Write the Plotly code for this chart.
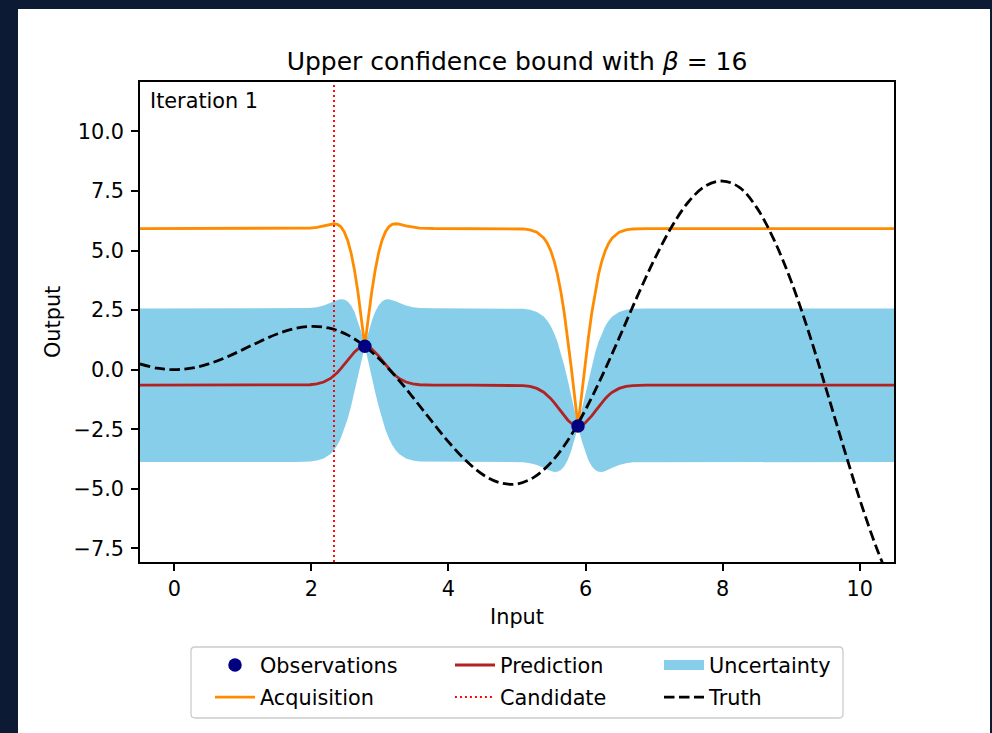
import plotly.graph_objects as go

# ---------------- data ----------------
# GP posterior evaluated on a grid that is dense around the two observations
x_grid = [-0.5, 1.0,
          1.78, 1.98, 2.08, 2.18, 2.28, 2.33, 2.38, 2.43, 2.48, 2.53, 2.58, 2.63, 2.68, 2.72, 2.75,
          2.78,
          2.81, 2.84, 2.88, 2.93, 2.98, 3.03, 3.08, 3.13, 3.18, 3.23, 3.28, 3.38, 3.48, 3.58, 3.78,
          4.3,
          4.89, 5.09, 5.19, 5.29, 5.39, 5.44, 5.49, 5.54, 5.59, 5.64, 5.69, 5.74, 5.79, 5.83, 5.86,
          5.89,
          5.92, 5.95, 5.99, 6.04, 6.09, 6.14, 6.19, 6.24, 6.29, 6.34, 6.39, 6.49, 6.59, 6.69, 6.89,
          8.0, 10.5]

pred_mean = [-0.65, -0.65,
             -0.649, -0.632, -0.598, -0.520, -0.368, -0.256, -0.119, 0.040, 0.217, 0.402, 0.581, 0.742, 0.870, 0.939, 0.970,
             0.98,
             0.970, 0.939, 0.870, 0.742, 0.581, 0.402, 0.217, 0.040, -0.119, -0.256, -0.368, -0.520, -0.598, -0.632, -0.649,
             -0.65,
             -0.652, -0.669, -0.705, -0.787, -0.946, -1.063, -1.207, -1.374, -1.560, -1.753, -1.942, -2.110, -2.244, -2.317, -2.349,
             -2.36,
             -2.349, -2.317, -2.244, -2.110, -1.942, -1.753, -1.560, -1.374, -1.207, -1.063, -0.946, -0.787, -0.705, -0.669, -0.652,
             -0.65, -0.65]

band_upper = [2.57, 2.57,
              2.572, 2.588, 2.621, 2.690, 2.804, 2.869, 2.926, 2.958, 2.944, 2.862, 2.692, 2.417, 2.035, 1.654, 1.330,
              0.98,
              1.330, 1.654, 2.035, 2.417, 2.692, 2.862, 2.944, 2.958, 2.926, 2.869, 2.804, 2.690, 2.621, 2.588, 2.572,
              2.57,
              2.569, 2.551, 2.514, 2.423, 2.226, 2.062, 1.838, 1.543, 1.167, 0.708, 0.169, -0.435, -1.079, -1.603, -1.989,
              -2.36,
              -1.989, -1.603, -1.079, -0.435, 0.169, 0.708, 1.167, 1.543, 1.838, 2.062, 2.226, 2.423, 2.514, 2.551, 2.569,
              2.57, 2.57]

band_lower = [-3.87, -3.87,
              -3.869, -3.852, -3.816, -3.729, -3.539, -3.381, -3.164, -2.877, -2.510, -2.059, -1.529, -0.933, -0.295, 0.225, 0.609,
              0.98,
              0.609, 0.225, -0.295, -0.933, -1.529, -2.059, -2.510, -2.877, -3.164, -3.381, -3.539, -3.729, -3.816, -3.852, -3.869,
              -3.87,
              -3.872, -3.889, -3.924, -3.997, -4.118, -4.188, -4.252, -4.292, -4.287, -4.214, -4.052, -3.786, -3.409, -3.032, -2.710,
              -2.36,
              -2.710, -3.032, -3.409, -3.786, -4.052, -4.214, -4.287, -4.292, -4.252, -4.188, -4.118, -3.997, -3.924, -3.889, -3.872,
              -3.87, -3.87]

acquisition = [5.92, 5.92,
               5.923, 5.940, 5.971, 6.031, 6.105, 6.121, 6.095, 5.994, 5.782, 5.423, 4.888, 4.161, 3.247, 2.398, 1.706,
               0.98,
               1.706, 2.398, 3.247, 4.161, 4.888, 5.423, 5.782, 5.994, 6.095, 6.121, 6.105, 6.031, 5.971, 5.940, 5.923,
               5.92,
               5.921, 5.903, 5.863, 5.764, 5.527, 5.314, 5.007, 4.579, 4.006, 3.269, 2.365, 1.309, 0.133, -0.859, -1.613,
               -2.36,
               -1.613, -0.859, 0.133, 1.309, 2.365, 3.269, 4.006, 4.579, 5.007, 5.314, 5.527, 5.764, 5.863, 5.903, 5.921,
               5.92, 5.92]

truth_x = [-0.5, -0.25, 0.0, 0.25, 0.5, 0.75, 1.0, 1.25, 1.5, 1.75, 2.0, 2.25, 2.5, 2.75, 3.0, 3.25,
           3.5, 3.75, 4.0, 4.25, 4.5, 4.75, 5.0, 5.25, 5.5, 5.75, 6.0, 6.25, 6.5, 6.75, 7.0, 7.25,
           7.5, 7.75, 8.0, 8.25, 8.5, 8.75, 9.0, 9.25, 9.5, 9.75, 10.0, 10.25, 10.5]
truth_y = [0.240, 0.062, 0.0, 0.062, 0.240, 0.511, 0.841, 1.186, 1.496, 1.722, 1.819, 1.751, 1.496, 1.050, 0.423, -0.352,
           -1.228, -2.143, -3.027, -3.804, -4.399, -4.747, -4.795, -4.509, -3.881, -2.931, -1.677, -0.207, 1.398, 3.041, 4.599, 5.962,
           7.035, 7.709, 7.915, 7.638, 6.787, 5.442, 3.709, 1.624, -0.714, -3.115, -5.440, -7.515, -9.237]

obs_x = [2.78, 5.89]
obs_y = [0.98, -2.36]
candidate_x = 2.33

x_ticks = [0, 2, 4, 6, 8, 10]
y_ticks = [-7.5, -5.0, -2.5, 0.0, 2.5, 5.0, 7.5, 10.0]
y_tick_text = ["\u22127.5", "\u22125.0", "\u22122.5", "0.0", "2.5", "5.0", "7.5", "10.0"]
x_range = [-0.5, 10.5]
y_range = [-8.07, 12.07]

# ---------------- geometry (pixels) ----------------
W, H = 992, 733
L, R, T, B = 140, 894, 82, 562


def px(xp):
    return (xp - L) / (R - L)


def py(yp):
    return (B - yp) / (B - T)


FONT = "DejaVu Sans"
FS = 20.8

fig = go.Figure()

band_x = x_grid + x_grid[::-1]
band_y = band_upper + band_lower[::-1]
fig.add_trace(go.Scatter(x=band_x, y=band_y, mode="lines", fill="toself",
                         fillcolor="#87ceeb", line=dict(width=0, color="#87ceeb"),
                         name="Uncertainty", showlegend=False, hoverinfo="skip"))
# legend key for the uncertainty band (thick patch)
fig.add_trace(go.Scatter(x=[None], y=[None], mode="lines",
                         line=dict(color="#87ceeb", width=20),
                         name="Uncertainty", legend="legend3", legendgroup="u", legendrank=1))
fig.add_trace(go.Scatter(x=x_grid, y=pred_mean, mode="lines",
                         line=dict(color="#b22222", width=2.8),
                         name="Prediction", legend="legend2", legendgroup="p", legendrank=1))
fig.add_trace(go.Scatter(x=x_grid, y=acquisition, mode="lines",
                         line=dict(color="#ff8c00", width=2.8),
                         name="Acquisition", legend="legend", legendgroup="a", legendrank=2))
fig.add_trace(go.Scatter(x=truth_x, y=truth_y, mode="lines",
                         line=dict(color="black", width=2.8, dash="10.5px,4.5px", shape="spline"),
                         name="Truth", legend="legend3", legendgroup="t", legendrank=2))
fig.add_trace(go.Scatter(x=[candidate_x, candidate_x], y=y_range, mode="lines",
                         line=dict(color="red", width=1.9, dash="1.9px,3.1px"),
                         name="Candidate", legend="legend2", legendgroup="c", legendrank=2))
fig.add_trace(go.Scatter(x=obs_x, y=obs_y, mode="markers",
                         marker=dict(color="#000080", size=13.5),
                         name="Observations", legend="legend", legendgroup="o", legendrank=1))

leg_common = dict(orientation="v", bgcolor="rgba(0,0,0,0)", borderwidth=0,
                  font=dict(family=FONT, size=FS, color="black"),
                  tracegroupgap=2, itemwidth=40,
                  xref="container", yref="container", xanchor="left", yanchor="top")
leg_top = 1 - 645 / H

rx, ry = 4 / (R - L), 4 / (B - T)
bx0, bx1, by0, by1 = px(191), px(843), py(718), py(647)
box_path = (f"M {bx0+rx},{by1} L {bx1-rx},{by1} Q {bx1},{by1} {bx1},{by1-ry} "
            f"L {bx1},{by0+ry} Q {bx1},{by0} {bx1-rx},{by0} L {bx0+rx},{by0} "
            f"Q {bx0},{by0} {bx0},{by0+ry} L {bx0},{by1-ry} Q {bx0},{by1} {bx0+rx},{by1} Z")

fig.update_layout(
    width=W, height=H,
    margin=dict(l=L, r=W - R, t=T, b=H - B, autoexpand=False),
    paper_bgcolor="#0c1a33",
    plot_bgcolor="white",
    font=dict(family=FONT, size=FS, color="black"),
    title=dict(text="Upper confidence bound with <i>β</i> = 16",
               x=0.5, xref="paper", xanchor="center",
               y=1 - 61 / H, yref="container", yanchor="middle",
               font=dict(family=FONT, size=25, color="black")),
    showlegend=True,
    legend=dict(leg_common, x=210 / W, y=leg_top),
    legend2=dict(leg_common, x=450 / W, y=leg_top),
    legend3=dict(leg_common, x=659 / W, y=leg_top),
    shapes=[
        dict(type="rect", xref="paper", yref="paper",
             x0=px(18), x1=px(990), y0=py(733), y1=py(9),
             fillcolor="white", line=dict(width=0), layer="below"),
        dict(type="path", xref="paper", yref="paper", path=box_path,
             fillcolor="rgba(255,255,255,0.8)", line=dict(color="#cccccc", width=1.3),
             layer="below"),
    ],
    annotations=[
        dict(text="Iteration 1", xref="paper", yref="paper",
             x=px(148), y=py(101), xanchor="left", yanchor="middle",
             showarrow=False, font=dict(family=FONT, size=FS, color="black")),
        dict(text="Output", xref="paper", yref="paper",
             x=px(53), y=py(322), xanchor="center", yanchor="middle", textangle=-90,
             showarrow=False, font=dict(family=FONT, size=FS, color="black")),
    ],
)

fig.update_xaxes(range=x_range, tickvals=x_ticks, ticks="outside", ticklen=7,
                 tickwidth=1.5, tickcolor="black", showline=True, linewidth=1.5,
                 linecolor="black", mirror=True, showgrid=False, zeroline=False,
                 title=dict(text="Input", font=dict(family=FONT, size=FS), standoff=10),
                 tickfont=dict(family=FONT, size=FS, color="black"))
fig.update_yaxes(range=y_range, tickvals=y_ticks, ticktext=y_tick_text, ticks="outside",
                 ticklen=7, tickwidth=1.5, tickcolor="black", showline=True, linewidth=1.5,
                 linecolor="black", mirror=True, showgrid=False, zeroline=False,
                 ticklabelstandoff=3,
                 tickfont=dict(family=FONT, size=FS, color="black"))

fig.write_html("out.html")
